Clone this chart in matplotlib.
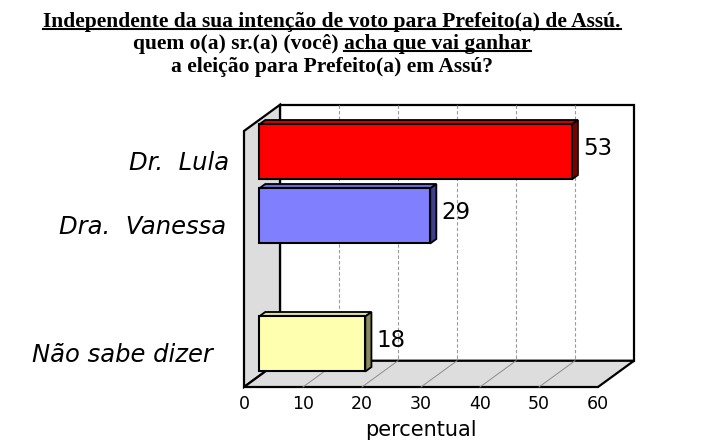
import matplotlib
matplotlib.use('Agg')
import matplotlib.pyplot as plt
from matplotlib.lines import Line2D

categories = ['Dr.  Lula', 'Dra.  Vanessa', 'Não sabe dizer']
values = [53, 29, 18]
slots = [0, 1, 3]          # third slot is left empty in the original
x_ticks = [0, 10, 20, 30, 40, 50, 60]

title_lines = ['Independente da sua intenção de voto para Prefeito(a) de Assú.',
               'quem o(a) sr.(a) (você) acha que vai ganhar',
               'a eleição para Prefeito(a) em Assú?']
underlined = 'acha que vai ganhar'

face_colors = ['#ff0000', '#8080ff', '#ffffb0']
top_colors = ['#d40000', '#6c6cd8', '#e0e096']
side_colors = ['#7a0000', '#40408a', '#8a8a5c']
wall = '#dddddd'
label_pads = [15, 18, 31]   # the labels do not line up in the original

plt.rcParams['font.family'] = ['DejaVu Sans']

W, H = 718, 446
DX, DY = 6.1, -0.41     # depth of the 3d box, in data units
F0, T = 0.42, 0.17      # where the bars sit in the depth, and their thickness
BH = 0.86               # bar height (fraction of a slot)

fig = plt.figure(figsize=(W / 100, H / 100), dpi=100)
ax = fig.add_axes([244 / W, 59 / H, 354 / W, 256 / H])
ax.set_xlim(0, 60)
ax.set_ylim(3.5, -0.5)
ax.patch.set_visible(False)
for s in ax.spines.values():
    s.set_visible(False)

# back wall + grid
ax.fill([DX, 60 + DX, 60 + DX, DX], [-0.5 + DY, -0.5 + DY, 3.5 + DY, 3.5 + DY],
        facecolor='white', edgecolor='black', lw=1.6, clip_on=False, zorder=1)
for v in x_ticks[1:-1]:
    ax.plot([v + DX, v + DX], [-0.5 + DY, 3.5 + DY], color='#9a9a9a', lw=0.8,
            ls=(0, (3, 2)), clip_on=False, zorder=1.5)

# left wall
ax.fill([0, 0, DX, DX], [-0.5, 3.5, 3.5 + DY, -0.5 + DY],
        facecolor=wall, edgecolor='black', lw=1.6, clip_on=False, zorder=2)
# floor
ax.fill([0, 60, 60 + DX, DX], [3.5, 3.5, 3.5 + DY, 3.5 + DY],
        facecolor=wall, edgecolor='black', lw=1.6, clip_on=False, zorder=2)
for v in x_ticks[1:-1]:
    ax.plot([v, v + DX], [3.5, 3.5 + DY], color='#8c8c8c', lw=0.7,
            clip_on=False, zorder=2.5)

# bars
for i in range(len(values)):
    s, v = slots[i], values[i]
    x0 = F0 * DX
    x1 = v + F0 * DX
    yt = s - BH / 2 + F0 * DY
    yb = s + BH / 2 + F0 * DY
    tx, ty = T * DX, T * DY
    ax.fill([x0, x1, x1 + tx, x0 + tx], [yt, yt, yt + ty, yt + ty],
            facecolor=top_colors[i], edgecolor='black', lw=1.3, zorder=3, clip_on=False)
    ax.fill([x1, x1 + tx, x1 + tx, x1], [yt, yt + ty, yb + ty, yb],
            facecolor=side_colors[i], edgecolor='black', lw=1.3, zorder=3, clip_on=False)
    ax.fill([x0, x1, x1, x0], [yt, yt, yb, yb],
            facecolor=face_colors[i], edgecolor='black', lw=1.5, zorder=4, clip_on=False)
    ax.text(x1 + tx + 0.9, s + F0 * DY - 0.06, str(v), fontsize=16.5,
            ha='left', va='center', zorder=5)

# category labels
ax.set_yticks([])
for i in range(len(categories)):
    ax.annotate(categories[i], xy=(0, slots[i]), xytext=(-label_pads[i], 0),
                textcoords='offset pixels', ha='right', va='center',
                fontsize=17.5, fontstyle='italic', annotation_clip=False)

ax.set_xticks(x_ticks)
ax.tick_params(axis='x', length=0, pad=6, labelsize=12.5)
ax.set_xlabel('percentual', fontsize=15, labelpad=5)

# title, centred, with hand drawn underlines
cx = 332 / W
baselines = [27, 49, 72]
texts = []
for line, yb in zip(title_lines, baselines):
    t = fig.text(cx, 1 - yb / H, line, ha='center', va='baseline',
                 family='Liberation Serif', weight='bold', fontsize=15.5)
    texts.append(t)

r = fig.canvas.get_renderer()
b1 = texts[0].get_window_extent(r)
fig.add_artist(Line2D([b1.x0 / W, b1.x1 / W], [(H - 29) / H] * 2,
                      color='black', lw=1.5))
tmp = fig.text(0, 0, underlined, family='Liberation Serif', weight='bold', fontsize=15.5)
wu = tmp.get_window_extent(r).width
tmp.remove()
b2 = texts[1].get_window_extent(r)
fig.add_artist(Line2D([(b2.x1 - wu) / W, b2.x1 / W], [(H - 51) / H] * 2,
                      color='black', lw=1.5))

fig.savefig('out.png', dpi=100)
